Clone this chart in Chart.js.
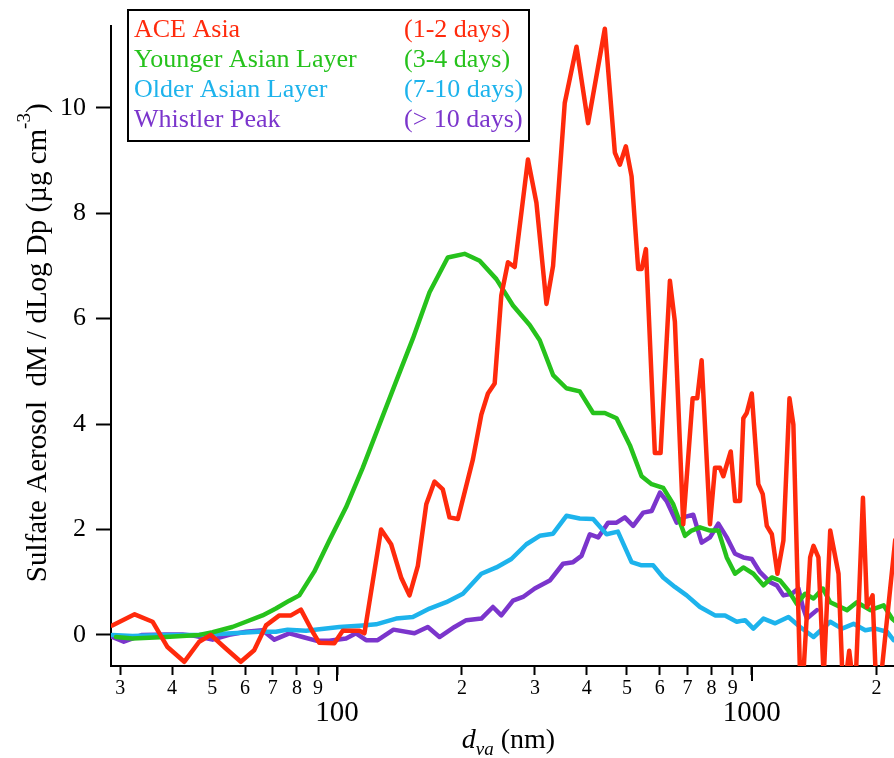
<!DOCTYPE html>
<html>
<head>
<meta charset="utf-8">
<script src="https://cdn.jsdelivr.net/npm/chart.js@4.4.1/dist/chart.umd.min.js"></script>
<style>
  html, body { margin: 0; padding: 0; background: #fff; }
  canvas { display: block; }
</style>
</head>
<body>
<canvas id="c" width="894" height="758"></canvas>
<script>
// Sulfate mass size distributions: vacuum aerodynamic diameter (nm) vs dM/dLogDp (µg cm^-3)
const aceAsiaDva = [28.7, 32.5, 35.9, 39.0, 42.8, 46.5, 49.6, 53.4, 58.6, 63.1,
  67.4, 72.6, 77.4, 81.8, 87.3, 90.6, 98.5, 103.2, 113.2, 116.4,
  127.7, 135.0, 142.7, 149.5, 156.6, 164.1, 171.8, 179.9, 186.7, 195.6,
  212.6, 222.8, 231.1, 239.9, 248.9, 258.3, 268.1, 288.6, 302.5, 319.8,
  331.8, 354.0, 377.9, 403.0, 442.3, 467.6, 480.8, 497.1, 513.1, 532.3,
  542.5, 555.6, 583.9, 602.7, 634.8, 652.6, 683.5, 720.1, 738.8, 757.1,
  793.0, 815.4, 838.3, 853.9, 889.8, 911.4, 937.0, 954.4, 972.5, 1000,
  1037, 1063, 1087, 1118, 1153, 1192, 1233, 1260, 1315, 1383,
  1409, 1448, 1491, 1546, 1619, 1662, 1718, 1774, 1854, 1896,
  1956, 2007, 2218];
const aceAsiaSulfate = [0.18, 0.39, 0.25, -0.23, -0.51, -0.13, 0.0, -0.23, -0.51, -0.29,
  0.18, 0.37, 0.37, 0.48, 0.06, -0.15, -0.16, 0.08, 0.08, 0.03,
  2.0, 1.72, 1.09, 0.75, 1.31, 2.48, 2.91, 2.76, 2.23, 2.20,
  3.33, 4.18, 4.58, 4.77, 6.44, 7.07, 6.98, 9.02, 8.2, 6.28,
  7.0, 10.09, 11.16, 9.71, 11.5, 9.15, 8.92, 9.27, 8.7, 6.94,
  6.94, 7.32, 3.45, 3.45, 6.72, 5.94, 2.10, 4.49, 4.49, 5.21,
  2.10, 3.17, 3.17, 3.01, 3.48, 2.54, 2.54, 4.11, 4.21, 4.58,
  2.86, 2.67, 2.07, 1.91, 1.16, 1.79, 4.49, 3.99, -1.5, 1.47,
  1.69, 1.47, -0.8, 1.98, 1.16, -1.2, -0.3, -1.2, 2.6, 0.53,
  0.75, -1.5, 1.8];

const youngerDva = [29.3, 32.1, 38.6, 46.5, 50.1, 55.9, 60.3, 66.1, 71.2, 76.7,
  81.1, 88.1, 95.8, 105.1, 115.3, 126.5, 138.8, 152.3, 167.1, 184.9,
  203.0, 220.7, 242.2, 265.6, 291.4, 308.1, 331.8, 357.3, 384.8, 414.5,
  442.3, 472.0, 508.2, 542.5, 573.6, 611.6, 646.6, 690.2, 716.2, 750.2,
  793.0, 830.6, 870.3, 911.4, 954.4, 1009, 1067, 1118, 1171, 1226,
  1284, 1345, 1409, 1484, 1546, 1697, 1793, 1931, 2080, 2179, 2260];
const youngerSulfate = [-0.04, -0.07, -0.04, 0.0, 0.05, 0.15, 0.25, 0.37, 0.5, 0.65,
  0.75, 1.2, 1.79, 2.42, 3.17, 3.99, 4.81, 5.62, 6.5, 7.16,
  7.23, 7.10, 6.75, 6.25, 5.88, 5.59, 4.93, 4.68, 4.62, 4.21,
  4.21, 4.11, 3.6, 3.01, 2.86, 2.79, 2.48, 1.88, 1.98, 2.04,
  1.98, 1.98, 1.47, 1.16, 1.28, 1.16, 0.94, 1.09, 1.03, 0.84,
  0.59, 0.78, 0.69, 0.88, 0.62, 0.47, 0.62, 0.47, 0.56, 0.31, 0.2];

const olderDva = [28.7, 32.1, 38.6, 46.5, 55.9, 64.9, 71.2, 76.0, 84.2, 94.1,
  101.3, 115.3, 124.2, 138.8, 152.3, 167.1, 183.4, 201.1, 222.8, 242.2,
  263.2, 286.1, 308.1, 331.8, 357.3, 384.8, 414.5, 446.5, 475.5, 513.1,
  542.5, 578.6, 611.6, 652.6, 696.7, 750.2, 815.4, 862.1, 920.0, 963.4,
  1009, 1067, 1139, 1226, 1308, 1409, 1546, 1650, 1760, 1878,
  1985, 2119, 2198];
const olderSulfate = [0.0, -0.02, 0.0, 0.0, 0.03, 0.06, 0.06, 0.1, 0.08, 0.12,
  0.15, 0.18, 0.2, 0.31, 0.34, 0.5, 0.62, 0.78, 1.16, 1.28,
  1.44, 1.72, 1.88, 1.92, 2.26, 2.21, 2.20, 1.91, 1.96, 1.38,
  1.32, 1.32, 1.09, 0.91, 0.75, 0.53, 0.37, 0.37, 0.25, 0.28,
  0.12, 0.31, 0.22, 0.34, 0.15, -0.04, 0.25, 0.12, 0.21, 0.09,
  0.12, 0.06, -0.1];

const whistlerDva = [28.7, 30.6, 33.9, 38.6, 42.4, 45.6, 50.1, 54.9, 60.3, 66.1,
  70.6, 76.7, 82.6, 89.0, 95.8, 105.1, 111.1, 117.5, 125.3, 136.8,
  153.7, 165.5, 176.6, 192.0, 204.9, 222.8, 237.6, 248.9, 265.6, 280.8,
  299.7, 325.8, 350.7, 370.8, 388.5, 406.9, 426.2, 450.5, 472.0, 494.3,
  517.6, 547.3, 573.6, 600.6, 623.4, 659.0, 690.2, 722.6, 757.1, 793.0,
  830.6, 870.3, 911.4, 954.4, 1000, 1047, 1107, 1149, 1192, 1249,
  1296, 1328, 1358, 1436];
const whistlerSulfate = [-0.04, -0.13, 0.0, 0.01, 0.01, -0.02, -0.09, 0.0, 0.06, 0.09,
  -0.09, 0.03, -0.04, -0.11, -0.11, -0.07, 0.03, -0.1, -0.1, 0.1,
  0.03, 0.15, -0.04, 0.15, 0.28, 0.31, 0.53, 0.37, 0.65, 0.72,
  0.88, 1.03, 1.35, 1.38, 1.5, 1.91, 1.85, 2.13, 2.13, 2.23,
  2.07, 2.32, 2.35, 2.70, 2.54, 2.13, 2.24, 2.28, 1.75, 1.85,
  2.11, 1.85, 1.54, 1.47, 1.44, 1.19, 1.0, 0.94, 0.75, 0.78,
  0.88, 0.53, 0.31, 0.47];

const seriesNames = ['ACE Asia', 'Younger Asian Layer', 'Older Asian Layer', 'Whistler Peak'];
const seriesAges = ['(1-2 days)', '(3-4 days)', '(7-10 days)', '(> 10 days)'];
const seriesColors = ['#ff2a0c', '#26c21c', '#1db3ec', '#7b35cc'];

const xTickValues = [30, 40, 50, 60, 70, 80, 90, 100, 200, 300, 400, 500, 600, 700, 800, 900, 1000, 2000];
const xTickLabels = ['3', '4', '5', '6', '7', '8', '9', '100', '2', '3', '4', '5', '6', '7', '8', '9', '1000', '2'];
const xMajorTicks = [100, 1000];
const yTickValues = [0, 2, 4, 6, 8, 10];

const xMin = 28.5, xMax = 2203;
const yMin = -0.59, yMax = 11.56;

const serif = "'Liberation Serif', 'Times New Roman', serif";

function toPoints(xs, ys) {
  return xs.map((x, i) => ({ x: x, y: ys[i] }));
}

const seriesData = [
  toPoints(aceAsiaDva, aceAsiaSulfate),
  toPoints(youngerDva, youngerSulfate),
  toPoints(olderDva, olderSulfate),
  toPoints(whistlerDva, whistlerSulfate)
];

// Rich-text axis titles, longer decade ticks and the boxed two-column legend
const decorations = {
  id: 'decorations',
  afterDraw(chart) {
    const { ctx, chartArea, scales } = chart;
    ctx.save();

    ctx.strokeStyle = '#000';
    ctx.lineWidth = 2;
    xMajorTicks.forEach(v => {
      const px = Math.round(scales.x.getPixelForValue(v));
      ctx.beginPath();
      ctx.moveTo(px, chartArea.bottom);
      ctx.lineTo(px, chartArea.bottom + 15);
      ctx.stroke();
    });

    function drawRuns(runs, startX, baseY) {
      let x = startX;
      runs.forEach(r => {
        ctx.font = r.font;
        ctx.fillText(r.text, x, baseY + (r.shift || 0));
        x += ctx.measureText(r.text).width;
      });
    }
    function runsWidth(runs) {
      let w = 0;
      runs.forEach(r => { ctx.font = r.font; w += ctx.measureText(r.text).width; });
      return w;
    }

    ctx.fillStyle = '#000';
    ctx.textBaseline = 'alphabetic';
    ctx.textAlign = 'left';

    // y-axis title, rotated
    const yRuns = [
      { text: 'Sulfate Aerosol  dM / dLog Dp (µg cm', font: '29px ' + serif },
      { text: '-3', font: '19px ' + serif, shift: -16 },
      { text: ')', font: '29px ' + serif }
    ];
    const yCenter = (chartArea.top + chartArea.bottom) / 2 - 3;
    ctx.save();
    ctx.translate(46, yCenter);
    ctx.rotate(-Math.PI / 2);
    drawRuns(yRuns, -runsWidth(yRuns) / 2, 0);
    ctx.restore();

    // x-axis title
    const xRuns = [
      { text: 'd', font: 'italic 28px ' + serif },
      { text: 'va', font: 'italic 19px ' + serif, shift: 7 },
      { text: ' (nm)', font: '28px ' + serif }
    ];
    const xCenter = (chartArea.left + chartArea.right) / 2 + 6;
    drawRuns(xRuns, xCenter - runsWidth(xRuns) / 2, 748);

    // legend box
    const box = { left: 128, top: 10, right: 529, bottom: 141 };
    ctx.lineWidth = 2;
    ctx.strokeStyle = '#000';
    ctx.strokeRect(box.left, box.top, box.right - box.left, box.bottom - box.top);
    ctx.font = '26px ' + serif;
    chart.data.datasets.forEach((ds, i) => {
      const base = 37 + i * 30;
      ctx.fillStyle = ds.borderColor;
      ctx.fillText(ds.label, box.left + 6, base);
      ctx.fillText(seriesAges[i], 404, base);
    });

    ctx.restore();
  }
};

new Chart(document.getElementById('c'), {
  type: 'line',
  data: {
    datasets: seriesNames.map((name, i) => ({
      label: name,
      data: seriesData[i],
      borderColor: seriesColors[i],
      backgroundColor: seriesColors[i],
      borderWidth: 4.5,
      pointRadius: 0,
      tension: 0,
      fill: false,
      clip: 0,
      borderJoinStyle: 'round',
      borderCapStyle: 'round'
    }))
  },
  options: {
    responsive: false,
    animation: false,
    devicePixelRatio: 1,
    layout: { padding: { top: 22, right: 0, bottom: 0, left: 0 } },
    plugins: {
      legend: { display: false },
      tooltip: { enabled: false },
      title: { display: false }
    },
    scales: {
      x: {
        type: 'logarithmic',
        position: 'bottom',
        min: xMin,
        max: xMax,
        afterBuildTicks: s => { s.ticks = xTickValues.map(v => ({ value: v })); },
        afterFit: s => { s.height = 92; },
        border: { display: true, color: '#000', width: 2 },
        grid: { drawOnChartArea: false, drawTicks: true, tickLength: 9, tickColor: '#000', tickWidth: 2 },
        ticks: {
          autoSkip: false,
          maxRotation: 0,
          minRotation: 0,
          padding: 2,
          color: '#000',
          callback: (value) => {
            const label = xTickLabels[xTickValues.indexOf(value)];
            return xMajorTicks.includes(value) ? ['', label] : label;
          },
          font: ctx => (ctx.tick && xMajorTicks.includes(ctx.tick.value))
            ? { family: serif, size: 29, lineHeight: 0.83 }
            : { family: serif, size: 20, lineHeight: 1.2 }
        }
      },
      y: {
        type: 'linear',
        position: 'left',
        min: yMin,
        max: yMax,
        afterBuildTicks: s => { s.ticks = yTickValues.map(v => ({ value: v })); },
        afterFit: s => { s.width = 111; },
        border: { display: true, color: '#000', width: 2 },
        grid: { drawOnChartArea: false, drawTicks: true, tickLength: 15, tickColor: '#000', tickWidth: 2 },
        ticks: {
          padding: 10,
          color: '#000',
          font: { family: serif, size: 26 },
          callback: v => String(v)
        }
      }
    }
  },
  plugins: [decorations]
});
</script>
</body>
</html>
